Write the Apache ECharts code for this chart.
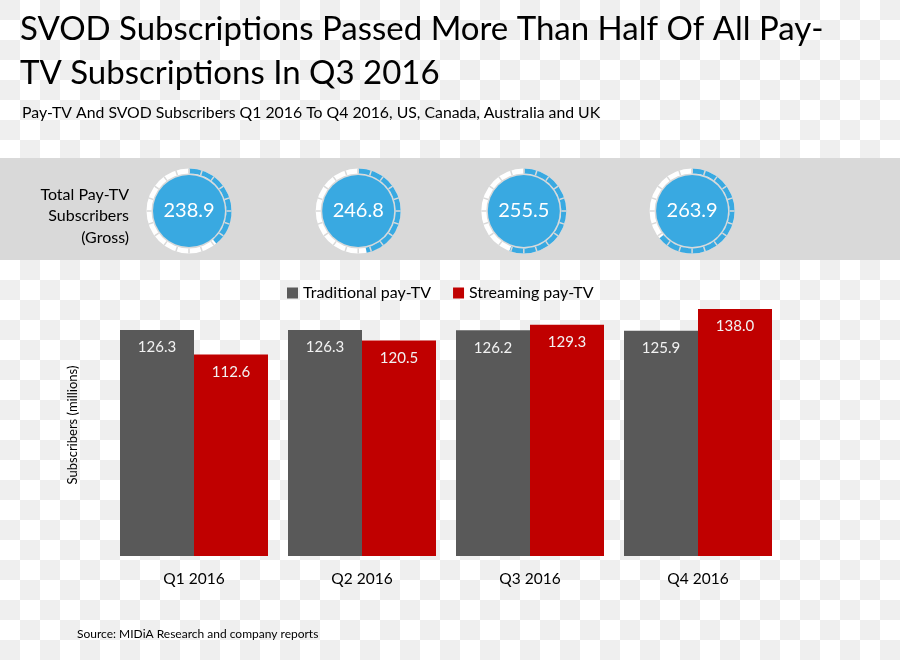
<!DOCTYPE html>
<html>
<head>
<meta charset="utf-8">
<script src="https://cdn.jsdelivr.net/npm/echarts@6/dist/echarts.min.js"></script>
<style>
html,body{margin:0;padding:0;}
body{width:900px;height:660px;background-color:#fff;
background-image:conic-gradient(#efefef 25%, #fff 0 50%, #efefef 0 75%, #fff 0);
background-size:40px 40px;background-position:20px 0;}
#c{width:900px;height:660px;}
</style>
</head>
<body>
<div id="c"></div>
<script>
const categories = ['Q1 2016', 'Q2 2016', 'Q3 2016', 'Q4 2016'];
const traditional = [126.3, 126.3, 126.2, 125.9];
const streaming = [112.6, 120.5, 129.3, 138.0];
const totals = [238.9, 246.8, 255.5, 263.9];
const gaugeCentersX = ['21%', '39.8%', '58.2%', '76.9%'];

const FONT = 'Lato';
const BLUE = '#39a9e1';
const chart = echarts.init(document.getElementById('c'));

const discs = totals.map((v, i) => ({
  type: 'pie',
  center: [gaugeCentersX[i], 211],
  radius: [0, 36],
  silent: true,
  z: 2,
  label: { show: false },
  labelLine: { show: false },
  itemStyle: { color: BLUE },
  data: [{ value: v }]
}));

const gaugeBase = (i) => ({
  type: 'gauge',
  center: [gaugeCentersX[i], 211],
  radius: 42.5,
  startAngle: 90,
  endAngle: -270,
  clockwise: true,
  min: 200,
  max: 300,
  splitNumber: 20,
  silent: true,
  axisTick: { show: false },
  axisLabel: { show: false },
  pointer: { show: false },
  anchor: { show: false },
  title: { show: false }
});

const gauges = totals.map((v, i) => Object.assign(gaugeBase(i), {
  z: 5,
  axisLine: { lineStyle: { width: 5, color: [[1, '#ffffff']] } },
  progress: { show: true, width: 5, itemStyle: { color: BLUE } },
  splitLine: { show: false },
  detail: {
    valueAnimation: false,
    offsetCenter: [0, 0],
    fontSize: 20,
    fontWeight: 'normal',
    fontFamily: FONT,
    color: '#ffffff',
    formatter: (x) => x.toFixed(1)
  },
  data: [{ value: v }]
}));

const separators = totals.map((v, i) => Object.assign(gaugeBase(i), {
  z: 6,
  axisLine: { lineStyle: { width: 5, color: [[1, 'rgba(0,0,0,0)']] } },
  progress: { show: false },
  splitLine: { show: true, distance: -5, length: 5, lineStyle: { color: '#d9d9d9', width: 1.5 } },
  detail: { show: false },
  data: [{ value: v }]
}));

chart.setOption({
  animation: false,
  textStyle: { fontFamily: FONT },
  title: [
    { text: 'SVOD Subscriptions Passed More Than Half Of All Pay-\nTV Subscriptions In Q3 2016',
      left: 20, top: 7, padding: 0,
      textStyle: { fontSize: 33, fontWeight: 'normal', color: '#000', lineHeight: 44, fontFamily: FONT } },
    { text: 'Pay-TV And SVOD Subscribers Q1 2016 To Q4 2016, US, Canada, Australia and UK',
      left: 22, top: 105, padding: 0,
      textStyle: { fontSize: 15.8, fontWeight: 'normal', color: '#000', fontFamily: FONT } },
    { text: 'Source: MIDiA Research and company reports',
      left: 77, top: 628, padding: 0,
      textStyle: { fontSize: 12, fontWeight: 'normal', color: '#000', fontFamily: FONT } }
  ],
  graphic: [
    { type: 'rect', shape: { x: 0, y: 158, width: 900, height: 102 }, style: { fill: '#d9d9d9' }, z: -10, silent: true },
    { type: 'text', x: 129, y: 184, silent: true, z: 10,
      style: { text: 'Total Pay-TV\nSubscribers\n(Gross)', align: 'right', verticalAlign: 'top',
               fontSize: 16, lineHeight: 21.5, fontFamily: FONT, fill: '#000' } },
    { type: 'text', x: 73, y: 425, rotation: Math.PI / 2, silent: true, z: 10,
      style: { text: 'Subscribers (millions)', align: 'center', verticalAlign: 'middle',
               fontSize: 13, fontFamily: FONT, fill: '#000' } }
  ],
  legend: {
    top: 285, left: 287, padding: 0,
    icon: 'rect', itemWidth: 11, itemHeight: 11, itemGap: 22,
    textStyle: { fontSize: 16, color: '#000', fontFamily: FONT },
    data: ['Traditional pay-TV', 'Streaming pay-TV']
  },
  grid: { left: 110, right: 118, top: 305.5, bottom: 104 },
  xAxis: {
    type: 'category',
    data: categories,
    axisLine: { show: false },
    axisTick: { show: false },
    axisLabel: { margin: 15, fontSize: 15.5, color: '#000', fontFamily: FONT }
  },
  yAxis: {
    type: 'value', min: 0, max: 140,
    axisLine: { show: false }, axisTick: { show: false }, axisLabel: { show: false }, splitLine: { show: false }
  },
  series: [
    { name: 'Traditional pay-TV', type: 'bar', data: traditional, barWidth: 74, barGap: '0%',
      itemStyle: { color: '#595959' },
      label: { show: true, position: 'insideTop', distance: 10, color: '#f2f2f2', fontSize: 15, fontFamily: FONT,
               formatter: (p) => p.value.toFixed(1) } },
    { name: 'Streaming pay-TV', type: 'bar', data: streaming, barWidth: 74,
      itemStyle: { color: '#c00000' },
      label: { show: true, position: 'insideTop', distance: 10, color: '#f2f2f2', fontSize: 15, fontFamily: FONT,
               formatter: (p) => p.value.toFixed(1) } },
    ...discs,
    ...gauges,
    ...separators
  ]
});
</script>
</body>
</html>
